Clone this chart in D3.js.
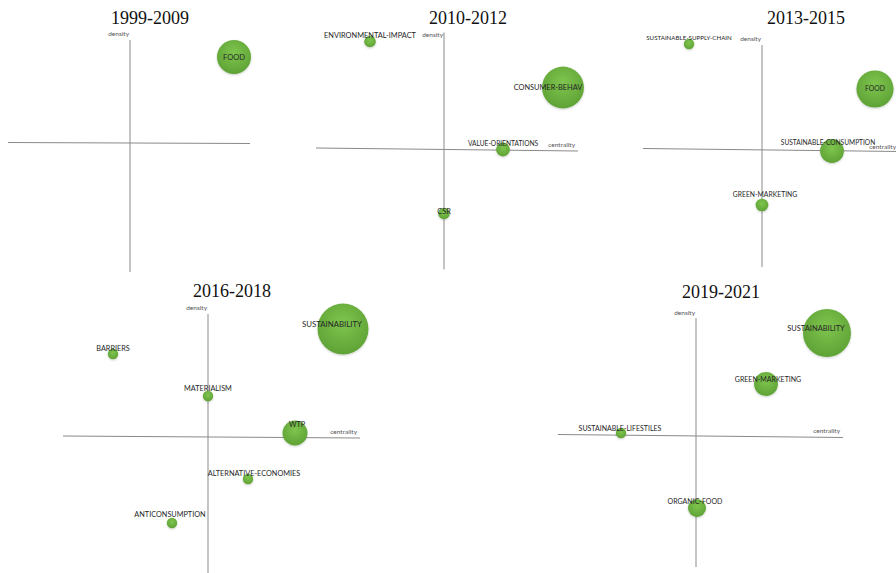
<!DOCTYPE html>
<html>
<head>
<meta charset="utf-8">
<script src="https://cdn.jsdelivr.net/npm/d3@7"></script>
<style>
  html, body { margin: 0; padding: 0; background: #fff; }
  svg { display: block; }
  .title { font-family: 'Liberation Serif', 'Times New Roman', serif; font-size: 18px; fill: #111; }
  .axis-name { font-family: Lato, 'Open Sans', sans-serif; font-size: 6.5px; fill: #555; }
  .theme { font-family: Lato, 'Open Sans', sans-serif; fill: #262626; }
</style>
</head>
<body>
<svg id="chart" width="896" height="573"></svg>
<script>

const PERIODS = ['1999-2009', '2010-2012', '2013-2015', '2016-2018', '2019-2021']

const THEMES = [
  ['FOOD'],
  ['ENVIRONMENTAL-IMPACT', 'CONSUMER-BEHAV', 'VALUE-ORIENTATIONS', 'CSR'],
  ['SUSTAINABLE-SUPPLY-CHAIN', 'FOOD', 'SUSTAINABLE-CONSUMPTION', 'GREEN-MARKETING'],
  ['SUSTAINABILITY', 'BARRIERS', 'MATERIALISM', 'WTP', 'ALTERNATIVE-ECONOMIES', 'ANTICONSUMPTION'],
  ['SUSTAINABILITY', 'GREEN-MARKETING', 'SUSTAINABLE-LIFESTILES', 'ORGANIC-FOOD']
]

const CENTRALITY = [
  [1.04],
  [-0.74, 1.19, 0.59, 0.0],
  [-0.73, 1.13, 0.70, 0.0],
  [1.35, -0.95, 0.0, 0.87, 0.40, -0.36],
  [1.31, 0.70, -0.75, 0.01]
]

const DENSITY = [
  [0.86],
  [1.08, 0.62, 0.0, -0.64],
  [1.06, 0.61, -0.01, -0.55],
  [1.08, 0.83, 0.41, 0.04, -0.42, -0.86],
  [1.03, 0.52, 0.03, -0.72]
]

const DOCUMENTS = [
  [43],
  [5, 65, 7, 5],
  [4, 51, 21, 6],
  [96, 4, 4, 23, 4, 4],
  [85, 21, 4, 12]
]

// layout of the five quadrant diagrams (pixels)
const K = 100
const PANELS = [
  { ox: 130, oy: 143, left: 122, right: 120, top: 103, bottom: 129, tilt: 1, tx: 150, ty: 24, densityY: 34, centralityDy: -5, labelSize: 7.5, showX: false },
  { ox: 444, oy: 149.5, left: 128, right: 134, top: 117, bottom: 120, tilt: 3, tx: 468, ty: 24, densityY: 35, centralityDy: -5, labelSize: 7.4, showX: true },
  { ox: 762, oy: 150, left: 119, right: 137, top: 105, bottom: 117, tilt: 3, tx: 806, ty: 24, densityY: 39, centralityDy: -3, labelSize: 6.8, showX: true },
  { ox: 208, oy: 437, left: 145, right: 152, top: 123, bottom: 136, tilt: 2, tx: 232, ty: 297, densityY: 308, centralityDy: -5, labelSize: 7.3, showX: true },
  { ox: 696, oy: 436, left: 138, right: 147, top: 118, bottom: 131, tilt: 3, tx: 721, ty: 298, densityY: 313, centralityDy: -5, labelSize: 7.0, showX: true }
]

// a few labels were printed at a different size in the original
const LABEL_SIZE = {
  '2010-2012|VALUE-ORIENTATIONS': 6.6,
  '2013-2015|SUSTAINABLE-SUPPLY-CHAIN': 6.2,
  '2013-2015|SUSTAINABLE-CONSUMPTION': 6.6,
  '2016-2018|SUSTAINABILITY': 7.8,
  '2019-2021|SUSTAINABILITY': 7.5
}

// small hand nudges so labels sit as in the original
const LABEL_NUDGE = {
  '1999-2009|FOOD': [0, 0],
  '2010-2012|CONSUMER-BEHAV': [-15, 0],
  '2010-2012|CSR': [0, -2],
  '2013-2015|FOOD': [0, 0],
  '2013-2015|SUSTAINABLE-CONSUMPTION': [-4, -8],
  '2013-2015|GREEN-MARKETING': [3, -10],
  '2016-2018|SUSTAINABILITY': [-11, -5],
  '2016-2018|MATERIALISM': [0, -8],
  '2016-2018|WTP': [2, -9],
  '2016-2018|ALTERNATIVE-ECONOMIES': [6, -6],
  '2016-2018|ANTICONSUMPTION': [-2, -9],
  '2019-2021|SUSTAINABILITY': [-11, -5],
  '2019-2021|GREEN-MARKETING': [2, -4],
  '2019-2021|SUSTAINABLE-LIFESTILES': [-1, -4],
  '2019-2021|ORGANIC-FOOD': [-2, -6]
}

const svg = d3.select('#chart')
const defs = svg.append('defs')

const grad = defs.append('radialGradient')
  .attr('id', 'bubble')
  .attr('cx', '50%').attr('cy', '38%').attr('r', '62%')
grad.append('stop').attr('offset', '0%').attr('stop-color', '#7ec54e')
grad.append('stop').attr('offset', '100%').attr('stop-color', '#5fa236')

defs.append('filter')
  .attr('id', 'shadow')
  .attr('x', '-30%').attr('y', '-30%').attr('width', '160%').attr('height', '160%')
  .append('feDropShadow')
  .attr('dx', 0).attr('dy', 1)
  .attr('stdDeviation', 1)
  .attr('flood-color', '#000')
  .attr('flood-opacity', 0.2)

const rScale = d3.scaleSqrt().domain([0, 100]).range([0, 26])

PERIODS.forEach((period, i) => {
  const P = PANELS[i]
  const x = d3.scaleLinear().domain([-P.left / K, P.right / K]).range([P.ox - P.left, P.ox + P.right])
  const y = d3.scaleLinear().domain([-P.bottom / K, P.top / K]).range([P.oy + P.bottom, P.oy - P.top])

  const g = svg.append('g').attr('class', 'panel')

  g.append('text')
    .attr('class', 'title')
    .attr('x', P.tx)
    .attr('y', P.ty)
    .attr('text-anchor', 'middle')
    .text(period)

  const [x0, x1] = x.domain()
  const [y0, y1] = y.domain()
  const tiltAt = v => P.tilt * (x(v) - x(x0)) / (x(x1) - x(x0)) - P.tilt / 2

  // centrality axis
  g.append('line')
    .attr('x1', x(x0)).attr('y1', y(0) + tiltAt(x0))
    .attr('x2', x(x1)).attr('y2', y(0) + tiltAt(x1))
    .attr('stroke', '#8a8a8a').attr('stroke-width', 1)

  // density axis
  g.append('line')
    .attr('x1', x(0)).attr('y1', y(y1))
    .attr('x2', x(0)).attr('y2', y(y0))
    .attr('stroke', '#8a8a8a').attr('stroke-width', 1)

  g.append('text')
    .attr('class', 'axis-name')
    .attr('x', x(0) - 1)
    .attr('y', P.densityY)
    .attr('dy', '0.35em')
    .attr('text-anchor', 'end')
    .text('density')

  if (P.showX) {
    g.append('text')
      .attr('class', 'axis-name')
      .attr('x', x(x1) - 3)
      .attr('y', y(0) + P.centralityDy)
      .attr('dy', '0.35em')
      .attr('text-anchor', 'end')
      .text('centrality')
  }

  const rows = THEMES[i].map((name, j) => ({
    name,
    key: `${period}|${name}`,
    c: CENTRALITY[i][j],
    d: DENSITY[i][j],
    n: DOCUMENTS[i][j]
  }))

  g.selectAll('circle.bubble')
    .data(rows)
    .join('circle')
    .attr('class', 'bubble')
    .attr('cx', r => x(r.c))
    .attr('cy', r => y(r.d))
    .attr('r', r => rScale(r.n))
    .attr('fill', 'url(#bubble)')
    .attr('filter', 'url(#shadow)')

  g.selectAll('text.theme')
    .data(rows)
    .join('text')
    .attr('class', 'theme')
    .attr('font-size', r => `${LABEL_SIZE[r.key] || P.labelSize}px`)
    .attr('text-anchor', 'middle')
    .attr('x', r => x(r.c) + (LABEL_NUDGE[r.key] || [0, -6])[0])
    .attr('y', r => y(r.d) + (LABEL_NUDGE[r.key] || [0, -6])[1])
    .attr('dy', '0.35em')
    .text(r => r.name)
})

</script>
</body>
</html>
